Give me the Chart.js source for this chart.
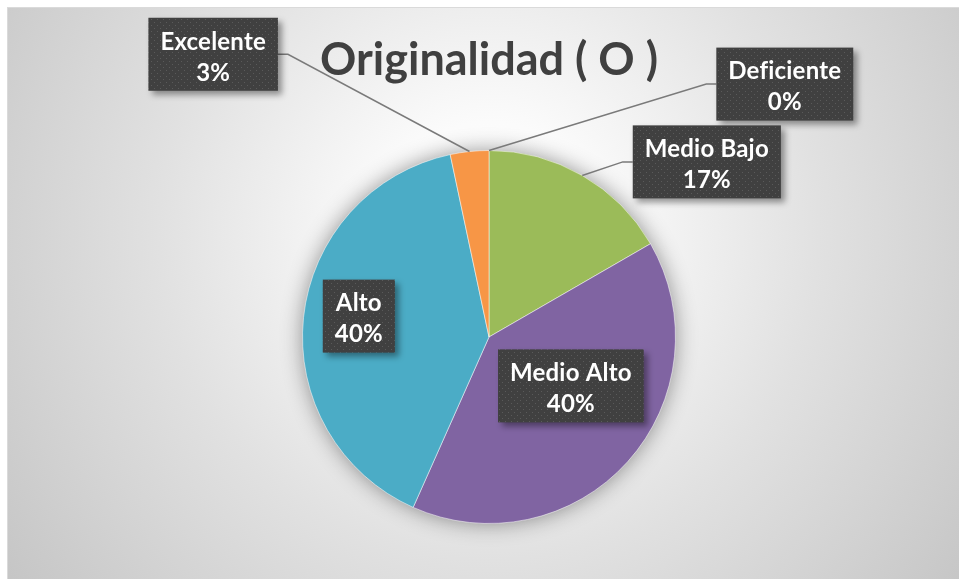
<!DOCTYPE html>
<html>
<head>
<meta charset="utf-8">
<script src="https://cdn.jsdelivr.net/npm/chart.js@4"></script>
<style>
  html, body { margin: 0; padding: 0; background: #fff; }
  #wrap { width: 959px; height: 579px; }
</style>
</head>
<body>
<div id="wrap"><canvas id="pie" width="959" height="579"></canvas></div>
<script>
// ── Data ─────────────────────────────────────────────────────────────────────
const categories = ['Deficiente', 'Medio Bajo', 'Medio Alto', 'Alto', 'Excelente']
const counts = [0, 5, 12, 12, 1]
const sliceColors = ['#4F81BD', '#9BBB59', '#8064A2', '#4BACC6', '#F79646']
const chartTitle = 'Originalidad ( O )'

// label box placement, in units of the pie radius from its centre
const labelSpots = [
  { dx: 1.586, dy: -1.356, leader: true },
  { dx: 1.168, dy: -0.939, leader: true },
  { dx: 0.439, dy: 0.262 },
  { dx: -0.698, dy: -0.112 },
  { dx: -1.479, dy: -1.516, leader: true }
]

const FONT = "Lato, 'Open Sans', sans-serif"

// ── Helpers ──────────────────────────────────────────────────────────────────
function dotPattern(ctx) {
  const c = document.createElement('canvas')
  c.width = 6; c.height = 6
  const p = c.getContext('2d')
  p.fillStyle = '#404040'
  p.fillRect(0, 0, 6, 6)
  p.fillStyle = '#5a5a5a'
  p.fillRect(1, 1, 1, 1)
  p.fillRect(4, 4, 1, 1)
  return ctx.createPattern(c, 'repeat')
}

// ── Plugins ──────────────────────────────────────────────────────────────────
const backdrop = {
  id: 'backdrop',
  beforeDraw(chart) {
    const { ctx, width, height } = chart
    ctx.save()
    ctx.fillStyle = '#fff'
    ctx.fillRect(0, 0, width, height)
    const g = ctx.createRadialGradient(489, 230, 0, 489, 230, 600)
    g.addColorStop(0, '#ffffff')
    g.addColorStop(0.18, '#fbfbfb')
    g.addColorStop(0.55, '#e1e1e1')
    g.addColorStop(1, '#c5c5c5')
    ctx.fillStyle = g
    ctx.fillRect(7, 7, width - 7, height - 7)
    ctx.strokeStyle = '#dadada'
    ctx.lineWidth = 1
    ctx.strokeRect(7.5, 7.5, width - 7, height - 7)
    ctx.restore()
  },
  beforeDatasetsDraw(chart) {
    // soft shadow under the pie
    const arc = chart.getDatasetMeta(0).data[0]
    if (!arc) return
    const { ctx } = chart
    ctx.save()
    ctx.shadowColor = 'rgba(0,0,0,0.45)'
    ctx.shadowBlur = 22
    ctx.fillStyle = '#bbb'
    ctx.beginPath()
    ctx.arc(arc.x, arc.y, arc.outerRadius - 1, 0, Math.PI * 2)
    ctx.fill()
    ctx.restore()
  }
}

const boxLabels = {
  id: 'boxLabels',
  afterDatasetsDraw(chart) {
    const { ctx } = chart
    const arcs = chart.getDatasetMeta(0).data
    const total = counts.reduce((s, v) => s + v, 0)
    const pattern = dotPattern(ctx)

    arcs.forEach((arc, i) => {
      const spot = labelSpots[i]
      const R = arc.outerRadius
      const cx = arc.x + spot.dx * R
      const cy = arc.y + spot.dy * R
      const lines = [categories[i], Math.round(counts[i] / total * 100) + '%']

      ctx.save()
      ctx.font = `bold 24px ${FONT}`
      // tiny spacing keeps the "fi" pair from turning into a ligature
      ctx.letterSpacing = '0.2px'
      const w = Math.max(...lines.map(t => ctx.measureText(t).width)) + 24
      const h = 73
      const left = cx - w / 2, top = cy - h / 2

      if (spot.leader) {
        const mid = (arc.startAngle + arc.endAngle) / 2
        const ax = arc.x + Math.cos(mid) * R
        const ay = arc.y + Math.sin(mid) * R
        const sideX = cx > arc.x ? left : left + w
        const elbowX = cx > arc.x ? sideX - 10 : sideX + 10
        ctx.strokeStyle = '#7a7a7a'
        ctx.lineWidth = 1.5
        ctx.beginPath()
        ctx.moveTo(ax, ay)
        ctx.lineTo(elbowX, cy)
        ctx.lineTo(sideX, cy)
        ctx.stroke()
      }

      ctx.shadowColor = 'rgba(0,0,0,0.4)'
      ctx.shadowBlur = 6
      ctx.shadowOffsetX = 4
      ctx.shadowOffsetY = 4
      ctx.fillStyle = pattern
      ctx.fillRect(left, top, w, h)
      ctx.shadowColor = 'transparent'

      ctx.fillStyle = '#ffffff'
      ctx.textAlign = 'center'
      ctx.textBaseline = 'middle'
      ctx.fillText(lines[0], cx, top + 24)
      ctx.fillText(lines[1], cx, top + 55)
      ctx.restore()
    })
  }
}

// ── Chart ────────────────────────────────────────────────────────────────────
new Chart(document.getElementById('pie'), {
  type: 'pie',
  data: {
    labels: categories,
    datasets: [{
      data: counts,
      backgroundColor: sliceColors,
      borderColor: 'rgba(255,255,255,0.5)',
      borderWidth: 1
    }]
  },
  options: {
    responsive: false,
    animation: false,
    layout: { padding: { left: 19, right: 0, top: 0, bottom: 55 } },
    plugins: {
      legend: { display: false },
      tooltip: { enabled: false },
      title: {
        display: true,
        text: chartTitle,
        color: '#404040',
        font: { family: FONT, size: 45, weight: 'bold', lineHeight: 1.2 },
        padding: { top: 33, bottom: 63 }
      }
    }
  },
  plugins: [backdrop, boxLabels]
})
</script>
</body>
</html>
